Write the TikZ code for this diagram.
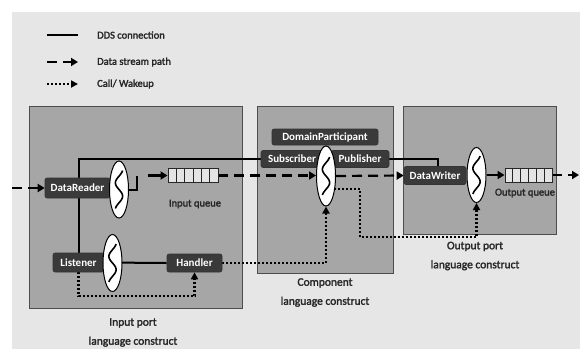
\documentclass[tikz,border=0pt]{standalone}
\usepackage{fontspec}
\setmainfont{Carlito}
\newfontfamily\medfont{Carlito}[FakeBold=2]
\usetikzlibrary{arrows.meta,shapes.geometric,calc}
\pgfdeclarelayer{back}
\pgfdeclarelayer{lines}
\pgfsetlayers{back,lines,main}

\definecolor{pagebg}{HTML}{E6E6E6}
\definecolor{boxfill}{HTML}{A6A6A6}
\definecolor{boxedge}{HTML}{4D4D4D}
\definecolor{tagfill}{HTML}{3A3A3A}
\definecolor{inkgray}{HTML}{262626}
\definecolor{cellfill}{HTML}{E4E4E4}

\tikzset{
  portbox/.style={draw=boxedge, fill=boxfill, line width=1.2pt, anchor=north west, inner sep=0pt},
  tag/.style={draw=black!80, fill=tagfill, rounded corners=2pt, text=white,
    font=\bfseries\fontsize{11}{13}\selectfont, inner sep=0pt, line width=0.6pt},
  wake/.style={ellipse, draw=black, fill=white, line width=1pt,
    minimum width=19pt, minimum height=#1, inner sep=0pt,
    path picture={\draw[line width=1.6pt, shift={(path picture bounding box.center)}]
      plot[domain=-19:19, samples=80, smooth] ({3.6*sin(\x*13.5)}, \x);}},
  wake/.default=57pt,
  queue/.style={draw=black!85, fill=cellfill, line width=0.9pt,
    minimum width=#1, minimum height=14pt, inner sep=0pt,
    path picture={\foreach \i in {1,...,5}{
      \draw[line width=0.9pt]
        ($(path picture bounding box.south west)!\i/6!(path picture bounding box.south east)$) --
        ($(path picture bounding box.north west)!\i/6!(path picture bounding box.north east)$);}}},
  dds/.style={line width=2pt},
  flow/.style={line width=2.2pt, dash pattern=on 10pt off 6pt, -{Triangle[length=7pt,width=8pt]}},
  call/.style={line width=2.2pt, dash pattern=on 2pt off 2pt, -{Triangle[length=7pt,width=7pt]}},
  caption/.style={text=inkgray, align=center, font=\medfont\fontsize{11.5}{19}\selectfont},
  smalltext/.style={text=inkgray, font=\medfont\fontsize{10.5}{12}\selectfont},
  legendtext/.style={smalltext, anchor=west, inner sep=0pt}
}

\begin{document}
\begin{tikzpicture}[x=1pt, y=-1pt]
\useasboundingbox (0,0) rectangle (580,349);

% page and the three construct boxes
\begin{pgfonlayer}{back}
  \fill[white] (0,0) rectangle (580,349);
  \fill[pagebg] (12,12) rectangle (580,349);
  \node[portbox, minimum width=213pt, minimum height=202pt] (inport) at (29,106) {};
  \node[portbox, minimum width=136pt, minimum height=167pt] (comp) at (257,106) {};
  \node[portbox, minimum width=153pt, minimum height=128pt] (outport) at (403,106) {};
\end{pgfonlayer}

% legend
\coordinate (l1a) at (47,35);  \coordinate (l1b) at (78,35);
\coordinate (l2a) at (47,62);  \coordinate (l2b) at (78,62);
\coordinate (l3a) at (47,84);  \coordinate (l3b) at (78,84);
\draw[line width=2.4pt] (l1a) -- (l1b);
\draw[flow] (l2a) -- (l2b);
\draw[call] (l3a) -- (l3b);
\node[legendtext] (l1t) at (97,35) {DDS connection};
\node[legendtext] (l2t) at (97,62) {Data stream path};
\node[legendtext] (l3t) at (97,84) {Call/ Wakeup};

% input port
\node[tag, minimum width=65pt, minimum height=20pt] (reader) at (77.5,188) {DataReader};
\node[wake] (e1) at (119,189.5) {};
\node[queue=50pt] (iq) at (193,175.5) {};
\node[smalltext] (iqlbl) at (195,204) {Input queue};
\node[tag, minimum width=51pt, minimum height=19pt] (listener) at (78.5,262.5) {Listener};
\node[wake] (e4) at (112.5,263) {};
\node[tag, minimum width=55pt, minimum height=18pt] (handler) at (194.5,263) {Handler};

% component
\node[tag, minimum width=106pt, minimum height=16pt] (dp) at (325,137) {DomainParticipant};
\node[tag, minimum width=62pt, minimum height=17pt] (sub) at (292,159) {Subscriber};
\node[tag, minimum width=58pt, minimum height=17pt] (pub) at (360,159) {Publisher};
\node[wake=60pt] (e2) at (326,176) {};

% output port
\node[tag, minimum width=62pt, minimum height=18pt] (writer) at (435,175.5) {DataWriter};
\node[wake=55pt] (e3) at (476.5,175) {};
\node[queue=47pt] (oq) at (528.5,175) {};
\node[smalltext] (oqlbl) at (525,193) {Output queue};

% captions
\node[caption] (incap) at (133,332.5) {Input port\\language construct};
\node[caption] (compcap) at (325,292.5) {Component\\language construct};
\node[caption] (outcap) at (475,256) {Output port\\language construct};

% helper points
\coordinate (inL) at (12,188);
\coordinate (b1) at (137,189.5);
\coordinate (b2) at (137,176);
\coordinate (a1) at (148,175.5);
\coordinate (outR) at (579,175);
\coordinate (d3) at (334,189);
\coordinate (t1) at (360,237);

\begin{pgfonlayer}{lines}
  % DDS connections
  \draw[dds] (listener.north) |- (sub.west);
  \draw[dds] (pub.east) -| ([xshift=3pt]writer.north);
  \draw[dds] (listener.east) -- (handler.west);
  \draw[dds] (e1.east) -- (b1) -- (b2);
  % data stream
  \draw[flow] (inL) -- (reader.west);
  \draw[flow, solid] (a1) -- (iq.west);
  \draw[flow] (iq.east) -- (iq.east -| e2.west);
  \draw[flow] (e2.east) -- (writer.west);
  \draw[flow, solid] (e3.east) -- (oq.west);
  \draw[flow] (oq.east) -- (outR);
  % call / wakeup
  \draw[call] (listener.south) -- ++(0,24) -| (handler.south);
  \draw[call] (handler.east) -| (e2.south);
  \draw[call] (d3) -| (t1) -| (e3.south);
\end{pgfonlayer}
\end{tikzpicture}
\end{document}
